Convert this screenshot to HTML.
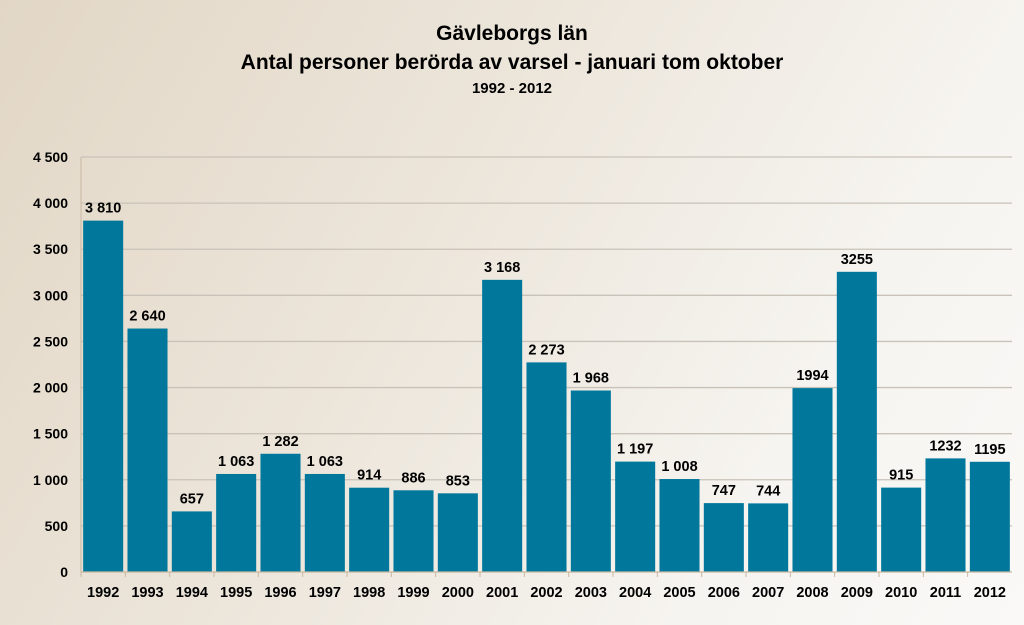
<!DOCTYPE html>
<html><head><meta charset="utf-8">
<style>
html,body{margin:0;padding:0}
body{width:1024px;height:625px;overflow:hidden;background:linear-gradient(120deg,#e2d7c6 0%,#ece5da 40%,#f6f4f0 75%,#faf9f7 100%);font-family:"Liberation Sans",sans-serif}
svg{display:block}
</style></head>
<body>
<svg id="chart" width="1024" height="625" xmlns="http://www.w3.org/2000/svg">
<text x="512" y="40" text-anchor="middle" font-size="21" font-weight="bold" fill="#000">Gävleborgs län</text>
<text x="512" y="69" text-anchor="middle" font-size="21" font-weight="bold" fill="#000">Antal personer berörda av varsel - januari tom oktober</text>
<text x="512" y="93" text-anchor="middle" font-size="15" font-weight="bold" fill="#000">1992 - 2012</text>
<g id="grid"></g>
<g id="bars"></g>
<g id="axes"></g>
</svg>
<script>
const categories=["1992","1993","1994","1995","1996","1997","1998","1999","2000","2001","2002","2003","2004","2005","2006","2007","2008","2009","2010","2011","2012"];
const values=[3810,2640,657,1063,1282,1063,914,886,853,3168,2273,1968,1197,1008,747,744,1994,3255,915,1232,1195];
const valueLabels=["3 810","2 640","657","1 063","1 282","1 063","914","886","853","3 168","2 273","1 968","1 197","1 008","747","744","1994","3255","915","1232","1195"];
const yTicks=[0,500,1000,1500,2000,2500,3000,3500,4000,4500];
const yTickLabels=["0","500","1 000","1 500","2 000","2 500","3 000","3 500","4 000","4 500"];

const NS="http://www.w3.org/2000/svg";
const X0=81,X1=1012,Y0=572,Y1=157,YMAX=4500;
const band=(X1-X0)/categories.length;
const y=v=>Y0-(v/YMAX)*(Y0-Y1);
const xc=i=>X0+band*(i+0.5);
function mk(tag,attrs,parent,text){const e=document.createElementNS(NS,tag);for(const k in attrs)e.setAttribute(k,attrs[k]);if(text!==undefined)e.textContent=text;parent.appendChild(e);return e;}
const grid=document.getElementById('grid'),bars=document.getElementById('bars'),axes=document.getElementById('axes');
yTicks.forEach((t,i)=>{
  if(t>0){const l=mk('line',{x1:X0,x2:X1,y1:y(t),y2:y(t),stroke:'#c9c2b8','stroke-width':1.3},grid);
  
  }
  const tx=mk('text',{x:68,y:y(t)+5,'text-anchor':'end','font-size':14,'font-weight':'bold',fill:'#000'},axes,yTickLabels[i]);
  
  
});
values.forEach((v,i)=>{
  const w=band-4.3;
  const r=mk('rect',{x:xc(i)-w/2,y:y(v),width:w,height:Y0-y(v),fill:'#00779b'},bars);
  
  
  const lb=mk('text',{x:xc(i),y:y(v)-8,'text-anchor':'middle','font-size':14.5,'font-weight':'bold',fill:'#000'},bars,valueLabels[i]);
  
  
  const cl=mk('text',{x:xc(i),y:597,'text-anchor':'middle','font-size':14.5,'font-weight':'bold',fill:'#000'},axes,categories[i]);
  
  
  const tk=mk('line',{x1:X0+band*i,x2:X0+band*i,y1:Y0,y2:Y0+5,stroke:'#c9b89f'},axes);
  
  
});
const ya=mk('line',{x1:X0,x2:X0,y1:Y1,y2:Y0,stroke:'#c9b89f','stroke-width':1},axes);


const xa=mk('line',{x1:X0,x2:X1,y1:Y0,y2:Y0,stroke:'#c9b89f','stroke-width':1.3},axes);


</script>
</body></html>
